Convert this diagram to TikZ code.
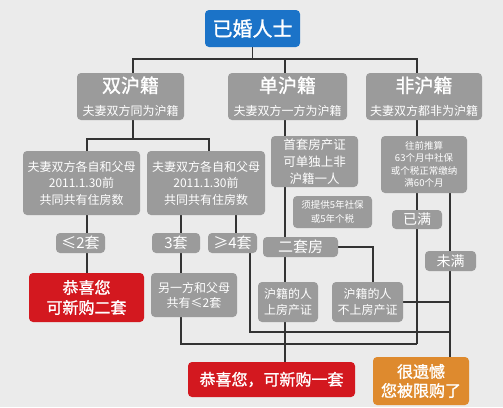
\documentclass[tikz,border=0pt]{standalone}
\usepackage{fontspec}
\newfontfamily\cjk{Noto Sans CJK SC}
\newfontfamily\cjkb[FakeBold=1.2]{Noto Sans CJK SC}
\usetikzlibrary{positioning}
\pgfdeclarelayer{back}
\pgfsetlayers{back,main}
\definecolor{bgc}{HTML}{EBEBEB}
\definecolor{boxc}{HTML}{9B9B9B}
\definecolor{bluec}{HTML}{1B73C8}
\definecolor{redc}{HTML}{D3181F}
\definecolor{orangec}{HTML}{DE8A2E}
\definecolor{linec}{HTML}{333333}

\begin{document}
\begin{tikzpicture}[x=1pt, y=-1pt,
    every node/.style={text=white, align=center, inner sep=0pt},
    blk/.style={rectangle, rounded corners=4pt, fill=boxc},
    root/.style={rectangle, rounded corners=4pt, fill=bluec},
    hot/.style={rectangle, rounded corners=4pt, fill=redc,
                font=\cjkb\fontsize{16}{20}\selectfont},
    warn/.style={rectangle, rounded corners=4pt, fill=orangec,
                 font=\cjkb\fontsize{16}{19}\selectfont},
    tag/.style={blk, font=\cjk\fontsize{15}{18}\selectfont},
    head/.style={blk, minimum height=47, font=\cjkb\fontsize{19}{22}\selectfont},
    sub/.style={font=\cjk\fontsize{12}{14}\selectfont},
    txt/.style={font=\cjk\fontsize{12}{16.5}\selectfont},
    tiny/.style={font=\cjk\fontsize{9.5}{12.3}\selectfont},
    link/.style={draw=linec, line width=1.2pt},
]
    \useasboundingbox (0,0) rectangle (503,407);
    %% column and row marks for the connectors
    \coordinate (xa) at (87,0);
    \coordinate (xb) at (133,0);
    \coordinate (xc) at (181,0);
    \coordinate (xd) at (209,0);
    \coordinate (xe) at (236,0);
    \coordinate (xf) at (250,0);
    \coordinate (xh) at (285,0);
    \coordinate (xi) at (373,0);
    \coordinate (xj) at (417,0);
    \coordinate (xk) at (450,0);
    \coordinate (ya) at (0,59);
    \coordinate (yb) at (0,139);
    \coordinate (yc) at (0,332);
    \coordinate (yd) at (0,344);

    %% top and the three kinds
    \node[root, minimum width=95, minimum height=37,
          font=\cjkb\fontsize{20}{24}\selectfont] (top) at (252.5,28.5) {已婚人士};
    \node[head, minimum width=107] (shuang) at (130.5,96.5)
        {双沪籍\\[1pt]{\cjk\fontsize{12}{14}\selectfont 夫妻双方同为沪籍}};
    \node[head, minimum width=119] (dan) at (287.5,96.5)
        {单沪籍\\[1pt]{\cjk\fontsize{12}{14}\selectfont 夫妻双方一方为沪籍}};
    \node[head, minimum width=116] (fei) at (424,96.5)
        {非沪籍\\[1pt]{\cjk\fontsize{12}{14}\selectfont 夫妻双方都非为沪籍}};

    %% conditions
    \node[blk, txt, minimum width=117, minimum height=64] (ab1) at (81.5,183)
        {夫妻双方各自和父母\\2011.1.30前\\共同共有住房数};
    \node[blk, txt, minimum width=118, minimum height=64] (ab2) at (206,183)
        {夫妻双方各自和父母\\2011.1.30前\\共同共有住房数};
    \node[blk, font=\cjk\fontsize{12.5}{17}\selectfont,
          minimum width=87, minimum height=51] (shou) at (314.5,161.5)
        {首套房产证\\可单独上非\\沪籍一人};
    \node[blk, tiny, minimum width=86, minimum height=57] (tui) at (424,164.5)
        {往前推算\\63个月中社保\\或个税正常缴纳\\满60个月};
    \node[blk, font=\cjk\fontsize{9.5}{13.3}\selectfont,
          minimum width=79, minimum height=32] (ti) at (332.5,212)
        {须提供5年社保\\或5年个税};

    %% small tags on the lines
    \node[tag, minimum width=49, minimum height=20] (le2) at (80.5,243) {≤2套};
    \node[tag, minimum width=48, minimum height=20] (san) at (176,243) {3套};
    \node[tag, minimum width=49, minimum height=20] (ge4) at (232.5,243) {≥4套};
    \node[tag, minimum width=75, minimum height=20] (er) at (300.5,247) {二套房};
    \node[tag, font=\cjk\fontsize{14}{16}\selectfont,
          minimum width=50, minimum height=19] (yiman) at (417,219.5) {已满};
    \node[tag, font=\cjk\fontsize{14}{16}\selectfont,
          minimum width=51, minimum height=20] (weiman) at (450.5,261) {未满};

    \node[blk, font=\cjk\fontsize{12}{15}\selectfont,
          minimum width=86, minimum height=44] (ling) at (194,295)
        {另一方和父母\\共有≤2套};
    \node[blk, font=\cjk\fontsize{12}{16.7}\selectfont,
          minimum width=60, minimum height=40] (shang) at (288,302)
        {沪籍的人\\上房产证};
    \node[blk, font=\cjk\fontsize{12}{16.7}\selectfont,
          minimum width=71, minimum height=40] (bu) at (367.5,302)
        {沪籍的人\\不上房产证};

    %% results
    \node[hot, minimum width=115, minimum height=49] (red2) at (86.5,297.5)
        {恭喜您\\可新购二套};
    \node[hot, minimum width=167, minimum height=35] (red1) at (271.5,379.5)
        {恭喜您，可新购一套};
    \node[warn, minimum width=96, minimum height=48] (orange) at (421,381)
        {很遗憾\\您被限购了};

    \begin{pgfonlayer}{back}
        \fill[bgc] (0,0) rectangle (503,407);
        %% top tree
        \draw[link] (top.south) -- (top.south|-ya);
        \draw[link] (shuang.north-|xb) -- (xb|-ya) -- (xj|-ya) -- (fei.north-|xj);
        \draw[link] (dan.north-|xh) -- (xh|-ya);
        %% double branch
        \draw[link] (shuang.south-|xb) -- (xb|-yb);
        \draw[link] (ab1.north-|xa) -- (xa|-yb) -- (xd|-yb) -- (ab2.north-|xd);
        \draw[link] (ab1.south-|xa) -- (red2.north-|xa);
        \draw[link] (ab2.south-|xc) -- (ling.north-|xc);
        \draw[link] (ab2.south-|xe) -- (ge4.north-|xe);
        \draw[link] (ling.south-|xc) |- (xj|-yd);
        \draw[link] (ge4.south-|xf) |- (xk|-yc);
        %% single branch
        \draw[link] (dan.south-|xh) -- (shou.north-|xh);
        \draw[link] (shou.south-|xh) -- (red1.north-|xh);
        \draw[link] (er.east) -| (bu.north-|xi);
        \draw[link] (bu.east) -- (bu.east-|xk);
        %% non branch
        \draw[link] (fei.south-|xj) -- (tui.north-|xj);
        \draw[link] (tui.south-|xj) -- (xj|-yd);
        \draw[link] (tui.south-|xk) -- (orange.north-|xk);
    \end{pgfonlayer}
\end{tikzpicture}
\end{document}
